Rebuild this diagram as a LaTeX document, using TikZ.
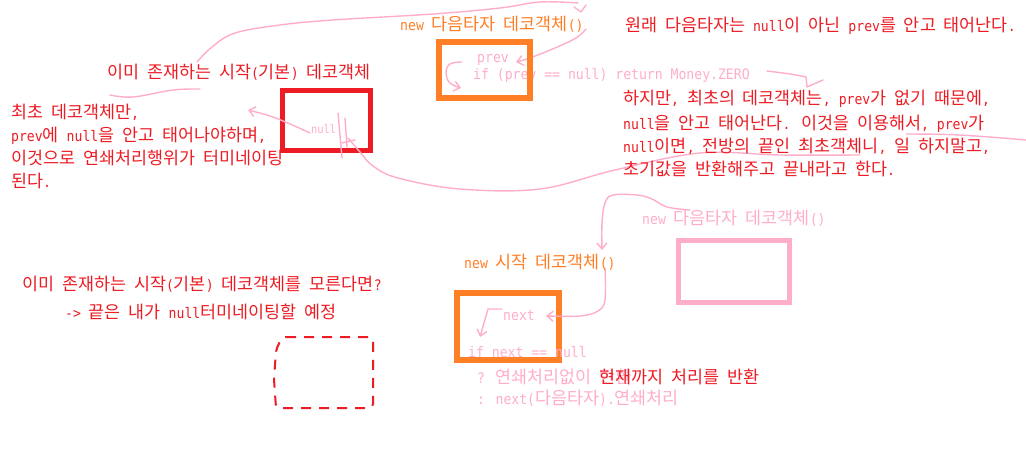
\documentclass[tikz,border=0pt]{standalone}
\usepackage{fontspec}
\usetikzlibrary{arrows.meta}
\setmainfont{DejaVu Sans Mono}[FakeStretch=0.905]
\newfontfamily\krf[Scale=1.2]{Noto Sans CJK KR}
\newfontfamily\mnf[FakeStretch=0.905]{DejaVu Sans Mono}
% automatic switch between Latin (mono) and Hangul
\XeTeXinterchartokenstate=1
\chardef\hgclass=10
\newcount\hgc
\hgc="AC00
\loop \XeTeXcharclass\hgc=\hgclass \ifnum\hgc<"D7A3 \advance\hgc 1 \repeat
\XeTeXinterchartoks 0 \hgclass = {\krf}
\XeTeXinterchartoks \hgclass 0 = {\mnf}
\XeTeXinterchartoks 4095 \hgclass = {\krf}
\XeTeXinterchartoks \hgclass 4095 = {\mnf}
\newcommand\basefont{\fontsize{14.5}{17}\selectfont\spaceskip 7.9pt\relax}
\newcommand\smallhand{\fontsize{11.5}{11.5}\selectfont}
\definecolor{cred}{HTML}{ED1C24}
\definecolor{corange}{HTML}{FF7F27}
\definecolor{cpink}{HTML}{FFAEC9}
\tikzset{
  txt/.style={anchor=base west, inner sep=0pt, font=\basefont},
  redt/.style={txt, text=cred},
  orgt/.style={txt, text=corange},
  pinkt/.style={txt, text=cpink},
  pen/.style={draw=cpink, line width=1.4pt, line cap=round, line join=round},
  barb/.style={-{Straight Barb[length=6pt,width=10pt]}},
  frame/.style={draw, inner sep=0pt, fill=none}
}
\begin{document}
\begin{tikzpicture}[x=1pt,y=-1pt]
\fill[white] (0,0) rectangle (1026,476);
\useasboundingbox (0,0) rectangle (1026,476);

% ---- boxes drawn under text
\node[frame, draw=cred, line width=5pt, minimum width=88pt, minimum height=60pt] (redbox) at (326.5,120.5) {};
\node[frame, draw=cpink, line width=4.5pt, minimum width=111pt, minimum height=62pt] (pinkbox) at (734,271.5) {};
\node[frame, draw=corange, line width=6pt, minimum width=102pt, minimum height=67pt] (obox2) at (508,326.5) {};

% ---- pink freehand strokes
\coordinate (a0) at (197,62);
\coordinate (a1) at (578,3);
\draw[pen] plot[smooth, tension=0.6] coordinates {(a0) (212,47) (235,33) (280,25) (333,20) (433,14) (500,8) (540,2) (a1)};
\draw[pen] (574,7) -- (581,12) -- (586,5);
\draw[pen] plot[smooth, tension=0.6] coordinates {(110,95) (133,97) (173,90) (200,89)};

\coordinate (b0) at (586,29);
\coordinate (b1) at (516,62);
\draw[pen, barb] plot[smooth, tension=0.6] coordinates {(b0) (576,38) (555,48) (530,58) (b1)};
\draw[pen, barb] plot[smooth, tension=0.7] coordinates {(462,62) (450,64) (446,73) (450,83) (461,88)};
\draw[pen] plot[smooth, tension=0.5] coordinates {(767,71) (790,74) (806,77)} -- (807,87) -- (823,80);

\coordinate (f0) at (310,133);
\coordinate (f1) at (248,110);
\draw[pen, barb] plot[smooth, tension=0.6] coordinates {(f0) (290,124) (270,116) (f1)};

\draw[pen] plot[smooth, tension=0.6] coordinates {(348,138) (360,152) (373,166) (398,178) (460,189) (540,189) (615,170) (700,153) (780,155) (860,155)};
\draw[pen] plot[smooth, tension=0.6] coordinates {(906,134) (960,135) (1026,140)};

\coordinate (h0) at (690,210);
\coordinate (h1) at (602,250);
\draw[pen, barb] plot[smooth, tension=0.6] coordinates {(h0) (667,207) (652,199) (637,195) (613,195) (605,203) (602,223) (h1)};
\coordinate (i0) at (605,268);
\coordinate (i1) at (546,316);
\draw[pen, barb] plot[smooth, tension=0.6] coordinates {(i0) (605,300) (598,311) (580,316) (i1)};
\draw[pen, barb] (502,309) -- (488,309) -- (480,337);

% ---- red dashed box
\draw[cred, line width=2pt, dash pattern=on 10pt off 8pt, rounded corners=4pt]
  (282,337) -- (373,337) -- (373,408) -- (276,408) -- (274,380) -- (276,350) -- cycle;

% ---- texts
\node[orgt] (oTitle) at (400,31) {new 다음타자 데코객체()};
\node[redt] (rTop) at (625,32) {원래 다음타자는 null이 아닌 prev를 안고 태어난다.};
\node[pinkt] (pPrev) at (477,63) {prev};
\node[pinkt] (pIf) at (473,80) {if (prev == null) return Money.ZERO};
\node[redt] (rExist) at (107,79) {이미 존재하는 시작(기본) 데코객체};
\node[redt] (rL1) at (11,119) {최초 데코객체만,};
\node[redt] (rL2) at (11,142) {prev에 null을 안고 태어나야하며,};
\node[redt] (rL3) at (11,165) {이것으로 연쇄처리행위가 터미네이팅};
\node[redt] (rL4) at (11,187) {된다.};
\node[redt] (rR1) at (623,105) {하지만, 최초의 데코객체는, prev가 없기 때문에,};
\node[redt] (rR2) at (623,130) {null을 안고 태어난다. 이것을 이용해서, prev가};
\node[redt] (rR3) at (623,153) {null이면, 전방의 끝인 최초객체니, 일 하지말고,};
\node[redt] (rR4) at (623,176) {초기값을 반환해주고 끝내라고 한다.};
\node[pinkt] (pNew) at (642,224) {new 다음타자 데코객체()};
\node[orgt] (oStart) at (464,268) {new 시작 데코객체()};
\node[pinkt] (pNext) at (503,320) {next};
\node[pinkt] (pIfn) at (468,357) {if next == null};
\node[pinkt] (pQ) at (477,383) {? 연쇄처리없이 반환};
\node[redt] (rNow) at (599,383) {현재까지 처리를 반환};
\node[pinkt] (pColon) at (477,404) {: next(다음타자).연쇄처리};
\node[redt] (rQ1) at (22,290) {이미 존재하는 시작(기본) 데코객체를 모른다면?};
\node[redt] (rQ2) at (65,318) {-> 끝은 내가 null터미네이팅할 예정};

% ---- top orange box drawn over its code text
\node[frame, draw=corange, line width=5.5pt, minimum width=91pt, minimum height=56pt] (obox1) at (484.5,70) {};

% ---- handwritten null inside the red box
\node[pinkt, font=\smallhand] (hnull) at (311,134) {null};
\draw[pen] (338,113) -- (342,158);
\draw[pen] (345,118) -- (347,147);
\draw[pen] (342,143) -- (355,140);
\end{tikzpicture}
\end{document}
